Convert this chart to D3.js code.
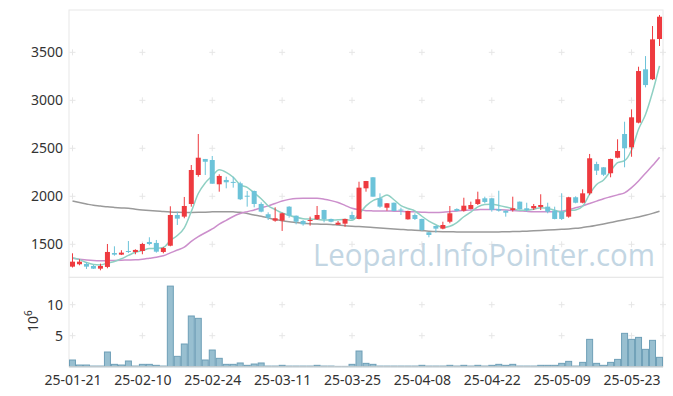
<!DOCTYPE html>
<html><head><meta charset="utf-8">
<script src="https://cdn.jsdelivr.net/npm/d3@7"></script>
<style>body{margin:0;background:#fff}svg{display:block}</style>
</head><body><div id="c"></div>
<script>
const dates = ["01-21","01-22","01-23","01-24","01-31","02-03","02-04","02-05","02-06","02-07",
"02-10","02-11","02-12","02-13","02-14","02-17","02-18","02-19","02-20","02-21",
"02-24","02-25","02-26","02-27","02-28","03-04","03-05","03-06","03-07","03-10",
"03-11","03-12","03-13","03-14","03-17","03-18","03-19","03-20","03-21","03-24",
"03-25","03-26","03-27","03-28","03-31","04-01","04-02","04-03","04-04","04-07",
"04-08","04-09","04-10","04-11","04-14","04-15","04-16","04-17","04-18","04-21",
"04-22","04-23","04-24","04-25","04-28","04-29","04-30","05-02","05-07","05-08",
"05-09","05-12","05-13","05-14","05-15","05-16","05-19","05-20","05-21","05-22",
"05-23","05-26","05-27","05-28","05-29"];
const open = [1267,1292,1295,1274,1246,1264,1409,1392,1430,1420,1430,1524,1514,1420,1485,1805,1788,1920,2222,2389,
2378,2125,2170,2150,2135,2006,2055,1920,1813,1746,1746,1892,1798,1743,1743,1760,1857,1764,1704,1715,
1805,1764,2083,2198,1979,1881,1933,1862,1760,1805,1764,1625,1691,1663,1735,1868,1850,1868,1920,1979,
1979,1868,1850,1857,1944,1875,1875,1889,1892,1850,1840,1788,1990,1933,2031,2336,2302,2240,2402,2649,
2510,2767,3323,3219,3639];
const high = [1406,1344,1313,1284,1298,1503,1479,1438,1534,1448,1514,1573,1545,1472,1896,1840,1993,2326,2649,2389,
2420,2229,2204,2204,2152,2055,2060,1937,1833,1885,1830,1897,1800,1753,1788,1899,1860,1767,1743,1767,
1840,2152,2160,2200,2031,1930,1935,1881,1850,1823,1767,1627,1693,1735,1899,1875,1985,1944,2048,1996,
1981,2058,1852,1996,1946,1933,1920,2021,1933,1892,2031,1995,2000,2073,2441,2360,2305,2392,2594,2777,
2906,3350,3461,3774,3889];
const low = [1258,1281,1243,1243,1229,1250,1381,1388,1409,1396,1396,1490,1413,1406,1479,1701,1771,1892,2204,2222,
2131,2048,2083,2090,1961,1892,1885,1833,1753,1735,1639,1777,1708,1694,1694,1753,1729,1729,1701,1683,
1753,1760,2048,1996,1881,1850,1845,1805,1757,1753,1639,1573,1621,1656,1719,1840,1840,1865,1909,1927,
1840,1840,1788,1840,1862,1840,1857,1857,1823,1760,1753,1777,1927,1927,2014,2222,2211,2198,2396,2302,
2412,2760,3135,3211,3566];
const close = [1319,1319,1267,1246,1274,1420,1392,1413,1420,1441,1503,1503,1423,1461,1805,1767,1899,2274,2402,2360,
2131,2212,2146,2140,1969,2000,1920,1840,1777,1771,1823,1798,1735,1708,1753,1805,1760,1735,1725,1764,
1764,2090,2159,1996,1892,1927,1847,1852,1847,1764,1649,1597,1663,1701,1823,1847,1902,1909,1969,1941,
1857,1850,1829,1875,1865,1857,1899,1909,1840,1764,1764,1990,1933,2031,2396,2267,2225,2389,2472,2500,
2823,3305,3159,3635,3871];
const volume = [1.08,0.27,0.27,0.1,0.1,2.37,0.38,0.27,0.92,0.1,0.38,0.38,0.22,0.1,13.0,1.67,3.66,8.18,7.8,1.08,
2.69,1.35,0.38,0.38,0.6,0.22,0.43,0.6,0.1,0.1,0.22,0.1,0.1,0.1,0.1,0.22,0.1,0.1,0.05,0.05,
0.38,2.53,0.54,0.38,0.1,0.1,0.1,0.1,0.1,0.1,0.22,0.1,0.1,0.1,0.22,0.1,0.22,0.1,0.22,0.1,
0.22,0.38,0.22,0.38,0.1,0.1,0.1,0.22,0.22,0.22,0.54,0.86,0.1,0.7,4.41,0.54,0.22,0.7,1.18,5.38,
4.41,4.73,2.8,4.25,1.51];
const ma5 = [1360,1340,1310,1290,1285,1305,1320,1349,1384,1417,1434,1456,1458,1466,1539,1592,1671,1841,2029,2140,
2213,2276,2250,2198,2120,2093,2035,1974,1901,1862,1826,1802,1781,1767,1763,1760,1752,1752,1756,1758,
1750,1816,1900,1955,1980,2013,1964,1903,1873,1847,1792,1742,1704,1675,1687,1726,1787,1836,1890,1914,
1916,1905,1889,1870,1855,1855,1865,1881,1874,1854,1835,1853,1858,1896,2023,2123,2170,2262,2350,2371,
2482,2698,2852,3084,3359];
const ma20 = [1354,1345,1336,1330,1328,1330,1332,1334,1336,1338,1345,1355,1365,1380,1410,1440,1470,1530,1580,1620,
1660,1710,1750,1790,1820,1840,1858,1880,1900,1925,1950,1968,1978,1980,1980,1979,1970,1955,1935,1905,
1875,1860,1850,1848,1847,1846,1845,1843,1840,1838,1835,1832,1830,1833,1840,1848,1853,1857,1860,1863,
1863,1860,1857,1852,1848,1843,1840,1840,1840,1840,1845,1860,1880,1900,1925,1950,1975,1995,2015,2035,
2090,2160,2240,2320,2406];
const ma60 = [1951,1935,1920,1906,1899,1890,1884,1879,1875,1866,1858,1852,1848,1842,1837,1834,1832,1832,1833,1835,
1838,1840,1840,1838,1834,1820,1805,1792,1775,1758,1745,1735,1727,1719,1714,1711,1709,1707,1700,1693,
1688,1684,1680,1675,1670,1665,1660,1655,1650,1647,1642,1637,1633,1631,1630,1629,1628,1628,1628,1628,
1628,1629,1630,1632,1634,1637,1640,1644,1648,1652,1656,1660,1666,1675,1685,1698,1712,1727,1742,1756,
1770,1785,1802,1822,1845];
const priceTicks = [1500,2000,2500,3000,3500];
const volTicks = [5,10];
const xTickIdx = [0,10,20,30,40,50,60,70,80];
const xTickLabels = ["25-01-21","25-02-10","25-02-24","25-03-11","25-03-25","25-04-08","25-04-22","25-05-09","25-05-23"];

const W=673,H=396;
const L=69,R=663,T=10,MB=277.3,VB=366.7;
const svg=d3.select("#c").append("svg").attr("width",W).attr("height",H);
const n=close.length;
const x=d3.scaleLinear().domain([-0.5,n-0.5]).range([L,R]);
const y=d3.scaleLinear().domain([1156,3941]).range([MB,T]);
const yv=d3.scaleLinear().domain([0,14.42]).range([VB,MB]);
const font="'Noto Sans', sans-serif";
const gridC="#e6e6e6";

// frames
svg.append("rect").attr("x",L).attr("y",T).attr("width",R-L).attr("height",MB-T).attr("fill","none").attr("stroke","#e8e8e8");
svg.append("rect").attr("x",L).attr("y",MB).attr("width",R-L).attr("height",VB-MB).attr("fill","none").attr("stroke","#e8e8e8");

// crosses
function crosses(ys, scale){
  const g=svg.append("g");
  ys.forEach(v=>{
    xTickIdx.concat([null]).forEach(i=>{
      const cx = i===null? R : x(i), cy=scale(v);
      g.append("line").attr("x1",cx-3).attr("x2",cx+3).attr("y1",cy).attr("y2",cy).attr("stroke",gridC);
      g.append("line").attr("x1",cx).attr("x2",cx).attr("y1",cy-3).attr("y2",cy+3).attr("stroke",gridC);
    });
  });
}
crosses(priceTicks,y);
crosses(volTicks,yv);

// watermark
svg.append("text").attr("x",313).attr("y",266).text("Leopard.InfoPointer.com")
  .attr("font-family","'Open Sans', sans-serif").attr("font-size",31)
  .attr("textLength",342).attr("lengthAdjust","spacingAndGlyphs")
  .attr("fill","#c3d6e3");

// MA lines
const line=arr=>d3.line().x((d,i)=>x(i)).y(d=>y(d)).curve(d3.curveMonotoneX)(arr);
svg.append("path").attr("d",line(ma60)).attr("fill","none").attr("stroke","#9a9a9a").attr("stroke-width",1.5);
svg.append("path").attr("d",line(ma20)).attr("fill","none").attr("stroke","#cc8fcc").attr("stroke-width",1.5);
svg.append("path").attr("d",line(ma5)).attr("fill","none").attr("stroke","#8fd0c3").attr("stroke-width",1.5);

// candles
const up="#ee3a3f", dn="#6cc3d9";
const cg=svg.append("g");
d3.range(n).forEach(i=>{
  const c = close[i]>=open[i]?up:dn;
  const cx=x(i);
  cg.append("line").attr("x1",cx).attr("x2",cx).attr("y1",y(high[i])).attr("y2",y(low[i])).attr("stroke",c).attr("stroke-width",1);
  const top=y(Math.max(open[i],close[i])), bot=y(Math.min(open[i],close[i]));
  cg.append("rect").attr("x",cx-2.5).attr("width",5).attr("y",top).attr("height",Math.max(1,bot-top)).attr("fill",c);
});

// volume
const vg=svg.append("g");
d3.range(n).forEach(i=>{
  const x0=x(i-0.5), x1=x(i+0.5);
  vg.append("rect").attr("x",x0+0.5).attr("width",x1-x0-1).attr("y",yv(volume[i])).attr("height",VB-yv(volume[i]))
    .attr("fill","#98bfd0").attr("stroke","#6e9fb7").attr("stroke-width",1);
});
svg.append("line").attr("x1",L).attr("x2",R).attr("y1",VB).attr("y2",VB).attr("stroke","#d0d0d0");

// axes labels
const yAxis=d3.axisLeft(y).tickValues(priceTicks).tickFormat(d3.format("d")).tickSize(0).tickPadding(6);
const ga=svg.append("g").attr("transform",`translate(${L},0)`).call(yAxis);
ga.select(".domain").remove();
ga.selectAll("text").attr("font-family",font).attr("font-size",14).attr("fill","#333");
const vAxis=d3.axisLeft(yv).tickValues(volTicks).tickFormat(d3.format("d")).tickSize(0).tickPadding(6);
const gv=svg.append("g").attr("transform",`translate(${L},0)`).call(vAxis);
gv.select(".domain").remove();
gv.selectAll("text").attr("font-family",font).attr("font-size",14).attr("fill","#333");
const xAxis=d3.axisBottom(x).tickValues(xTickIdx).tickFormat((d,k)=>xTickLabels[k]).tickSize(0).tickPadding(8);
const gx=svg.append("g").attr("transform",`translate(0,${VB})`).call(xAxis);
gx.select(".domain").remove();
gx.selectAll("text").attr("font-family",font).attr("font-size",14).attr("fill","#333");

// 10^6 label
const lab=svg.append("text").attr("transform","translate(38,332) rotate(-90)")
  .attr("font-family",font).attr("font-size",14).attr("fill","#333");
lab.append("tspan").text("10");
lab.append("tspan").text("6").attr("font-size",10).attr("dy",-6);
</script></body></html>
